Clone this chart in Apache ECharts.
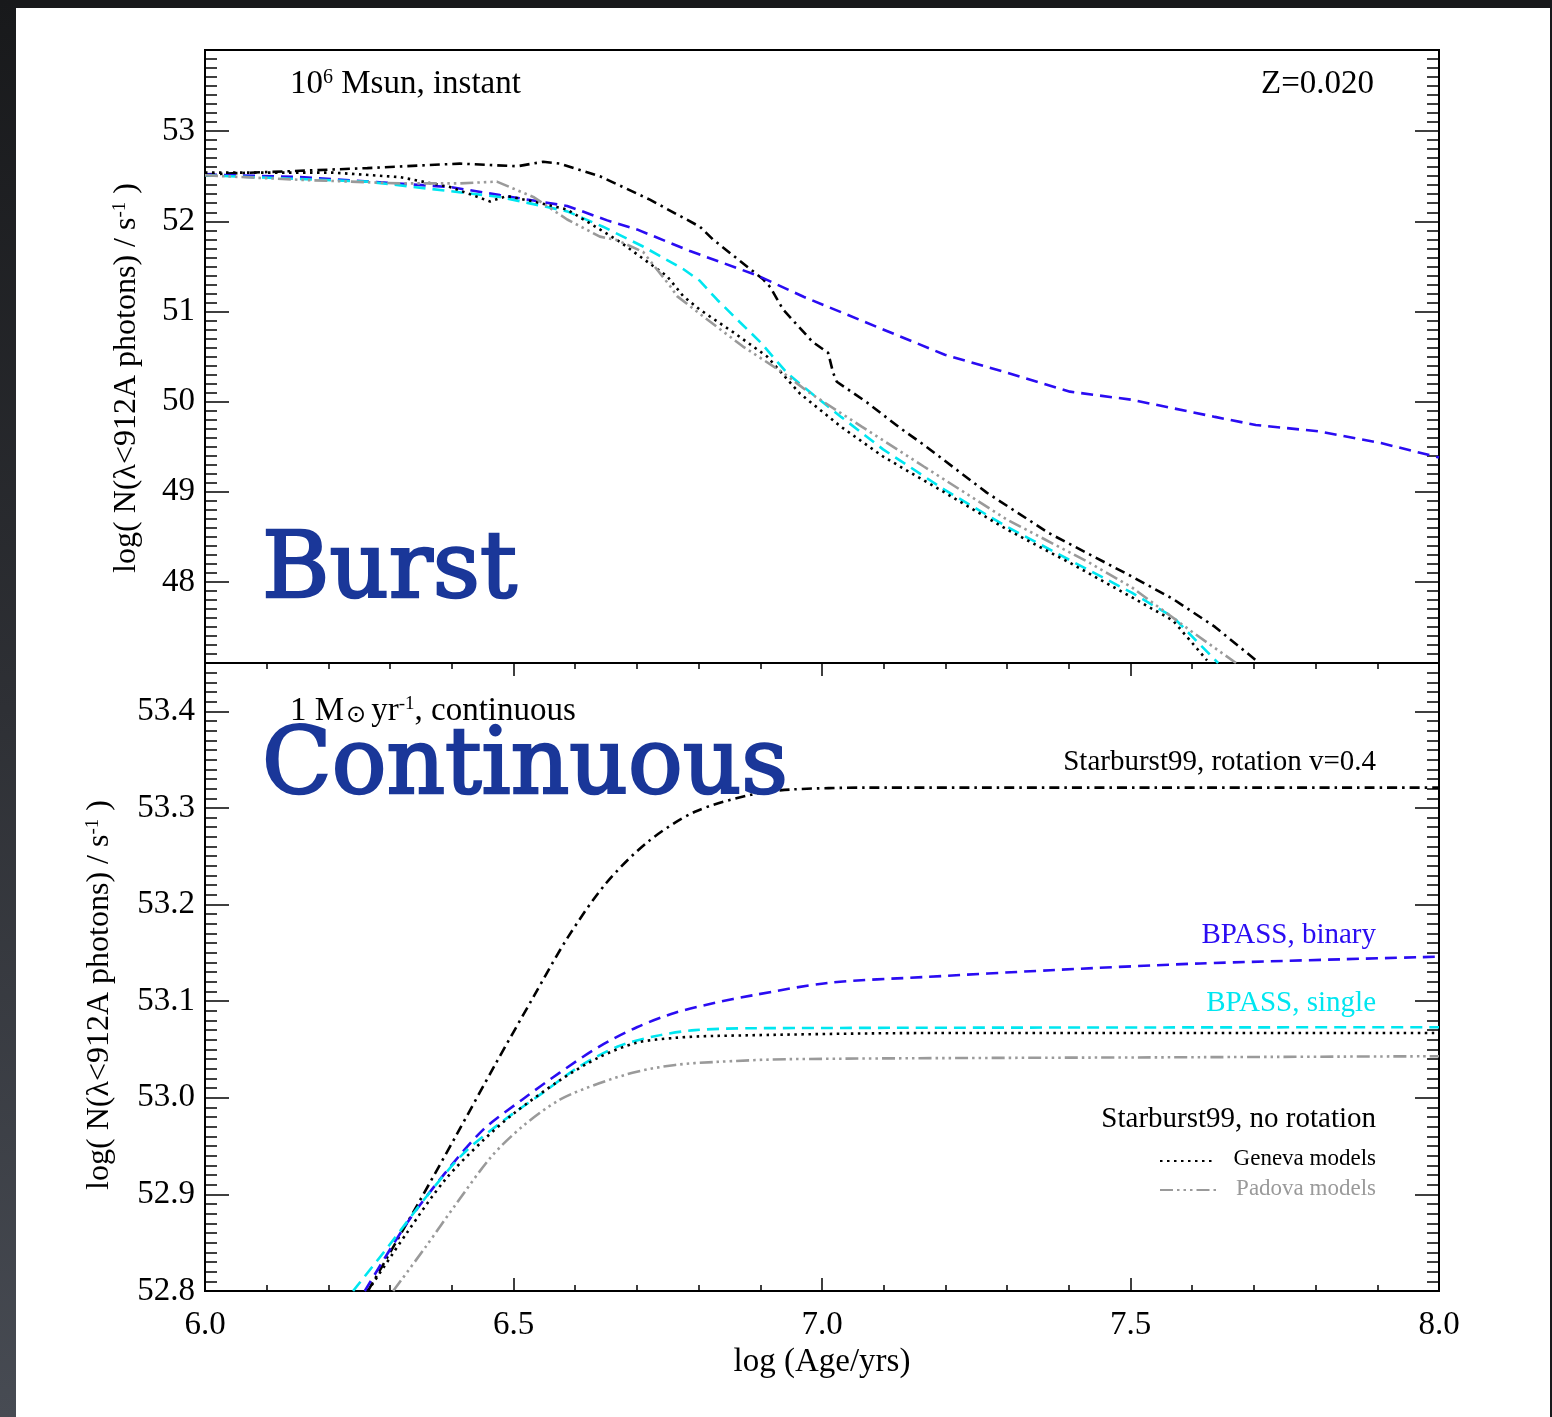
<!DOCTYPE html>
<html><head><meta charset="utf-8">
<script src="https://cdn.jsdelivr.net/npm/echarts@6/dist/echarts.min.js"></script>
<style>html,body{margin:0;padding:0;background:#fff}#c{width:1552px;height:1417px}</style>
</head><body><div id="c"></div>
<script>
// ---------- tick values / labels ----------
const xTicks = [6.0, 6.5, 7.0, 7.5, 8.0];
const xTickLabels = ['6.0', '6.5', '7.0', '7.5', '8.0'];
const topYTicks = [48, 49, 50, 51, 52, 53];
const topYLabels = ['48', '49', '50', '51', '52', '53'];
const botYTicks = [52.8, 52.9, 53.0, 53.1, 53.2, 53.3, 53.4];
const botYLabels = ['52.8', '52.9', '53.0', '53.1', '53.2', '53.3', '53.4'];

// ---------- Burst panel (log age, log Q) ----------
const burstRotAge = [6.000, 6.154, 6.263, 6.413, 6.506, 6.548, 6.575, 6.640, 6.721, 6.802, 6.823, 6.904, 6.916, 6.937, 6.985, 7.010, 7.018, 7.024, 7.073, 7.126, 7.165, 7.267, 7.368, 7.502, 7.569, 7.637, 7.707];
const burstRotQ   = [52.52, 52.56, 52.59, 52.64, 52.61, 52.66, 52.64, 52.50, 52.24, 51.94, 51.80, 51.36, 51.27, 51.02, 50.66, 50.54, 50.32, 50.22, 49.99, 49.71, 49.52, 48.99, 48.54, 48.06, 47.81, 47.50, 47.11];

const burstBinAge = [6.000, 6.154, 6.397, 6.478, 6.587, 6.652, 6.700, 6.786, 6.895, 6.971, 7.099, 7.199, 7.300, 7.402, 7.502, 7.637, 7.703, 7.805, 7.906, 8.000];
const burstBinQ   = [52.52, 52.49, 52.38, 52.29, 52.17, 52.01, 51.91, 51.67, 51.40, 51.16, 50.80, 50.52, 50.32, 50.11, 50.02, 49.83, 49.74, 49.67, 49.54, 49.38];

const burstSinAge = [6.000, 6.263, 6.478, 6.587, 6.645, 6.710, 6.775, 6.802, 6.830, 6.867, 6.900, 6.943, 6.976, 7.031, 7.099, 7.199, 7.300, 7.402, 7.502, 7.569, 7.642];
const burstSinQ   = [52.51, 52.44, 52.27, 52.11, 51.94, 51.72, 51.47, 51.34, 51.13, 50.88, 50.66, 50.32, 50.13, 49.83, 49.47, 49.02, 48.61, 48.24, 47.88, 47.61, 47.10];

const burstGenAge = [6.000, 6.207, 6.316, 6.397, 6.462, 6.489, 6.532, 6.587, 6.640, 6.673, 6.705, 6.749, 6.775, 6.802, 6.856, 6.911, 6.964, 7.031, 7.099, 7.199, 7.300, 7.402, 7.502, 7.569, 7.624];
const burstGenQ   = [52.54, 52.54, 52.49, 52.38, 52.22, 52.28, 52.22, 52.13, 51.91, 51.77, 51.61, 51.39, 51.17, 51.02, 50.77, 50.50, 50.09, 49.72, 49.39, 48.99, 48.58, 48.21, 47.83, 47.57, 47.13];

const burstPadAge = [6.000, 6.154, 6.316, 6.413, 6.473, 6.532, 6.587, 6.640, 6.668, 6.710, 6.754, 6.765, 6.814, 6.872, 6.937, 6.977, 7.065, 7.165, 7.300, 7.434, 7.502, 7.603, 7.671];
const burstPadQ   = [52.51, 52.46, 52.42, 52.42, 52.44, 52.27, 52.02, 51.83, 51.79, 51.66, 51.28, 51.17, 50.91, 50.61, 50.32, 50.11, 49.72, 49.28, 48.69, 48.21, 47.94, 47.43, 47.10];

// ---------- Continuous panel ----------
const contRotAge = [6.264, 6.345, 6.408, 6.470, 6.532, 6.588, 6.650, 6.718, 6.794, 6.887, 6.948, 7.073, 8.000];
const contRotQ   = [52.800, 52.890, 52.962, 53.034, 53.104, 53.166, 53.222, 53.265, 53.296, 53.314, 53.319, 53.321, 53.321];

const contBinAge = [6.259, 6.327, 6.389, 6.451, 6.514, 6.575, 6.639, 6.700, 6.762, 6.825, 6.887, 7.011, 7.167, 7.370, 7.613, 8.000];
const contBinQ   = [52.800, 52.870, 52.922, 52.967, 52.998, 53.026, 53.053, 53.073, 53.088, 53.098, 53.106, 53.119, 53.125, 53.132, 53.139, 53.146];

const contSinAge = [6.240, 6.297, 6.358, 6.420, 6.483, 6.545, 6.606, 6.669, 6.731, 6.794, 6.887, 8.000];
const contSinQ   = [52.800, 52.846, 52.897, 52.943, 52.976, 53.004, 53.032, 53.053, 53.064, 53.070, 53.072, 53.073];

const contGenAge = [6.264, 6.327, 6.389, 6.451, 6.501, 6.575, 6.639, 6.700, 6.762, 6.825, 7.178, 8.000];
const contGenQ   = [52.800, 52.860, 52.915, 52.956, 52.984, 53.018, 53.042, 53.057, 53.062, 53.064, 53.067, 53.067];

const contPadAge = [6.305, 6.358, 6.408, 6.464, 6.514, 6.575, 6.639, 6.700, 6.762, 6.825, 6.948, 7.613, 8.000];
const contPadQ   = [52.800, 52.846, 52.891, 52.939, 52.970, 52.998, 53.015, 53.027, 53.034, 53.037, 53.040, 53.042, 53.043];

// ---------- helpers ----------
const SERIF = '"Liberation Serif", "Times New Roman", serif';
const SLAB = '"DejaVu Serif", serif';
const C_BLUE = '#2a0cf2', C_CYAN = '#00e6f0', C_GRAY = '#9a9a9a', C_BLACK = '#000', C_TITLE = '#1a3799';
const DASH_ROT = [10, 5, 2.5, 5], DASH_BPASS = [12, 7], DASH_GEN = [2.5, 4.5], DASH_PAD = [13, 4, 2.5, 4, 2.5, 4, 2.5, 4];

function pairs(xs, ys) { return xs.map((x, i) => [x, ys[i]]); }
function lookup(ticks, labels) {
  return function (v) { const i = ticks.findIndex(t => Math.abs(t - v) < 1e-6); return i >= 0 ? labels[i] : ''; };
}
const topMinor = []; for (let k = 472; k <= 539; k++) topMinor.push(k / 10);
const botMinor = []; for (let k = 5281; k <= 5345; k++) botMinor.push(k / 100);

function yAxes(gridIndex, min, max, majors, minors, fmt) {
  const base = { gridIndex, type: 'value', min, max, axisLine: { show: false }, splitLine: { show: false } };
  const tickStyle = { color: '#000', width: 1.5 };
  return [
    Object.assign({}, base, { position: 'left',
      axisTick: { show: true, inside: true, length: 24, customValues: majors, lineStyle: tickStyle },
      axisLabel: { show: true, customValues: majors, formatter: fmt, fontFamily: SERIF, fontSize: 33, color: '#000', margin: 10, padding: [4, 0, 0, 0] } }),
    Object.assign({}, base, { position: 'left',
      axisTick: { show: true, inside: true, length: 12, customValues: minors, lineStyle: tickStyle },
      axisLabel: { show: false } }),
    Object.assign({}, base, { position: 'right',
      axisTick: { show: true, inside: true, length: 24, customValues: majors, lineStyle: tickStyle },
      axisLabel: { show: false } }),
    Object.assign({}, base, { position: 'right',
      axisTick: { show: true, inside: true, length: 12, customValues: minors, lineStyle: tickStyle },
      axisLabel: { show: false } })
  ];
}

function line(name, xi, yi, xs, ys, color, dash, smooth) {
  return {
    name, type: 'line', xAxisIndex: xi, yAxisIndex: yi, data: pairs(xs, ys),
    showSymbol: false, symbol: 'none', clip: true, animation: false,
    smooth: smooth ? 0.3 : false,
    lineStyle: { color, width: 2.6, type: dash, cap: 'butt' }
  };
}

const chart = echarts.init(document.getElementById('c'), null, { renderer: 'canvas' });

const xBase = { type: 'value', min: 6, max: 8, interval: 0.5, splitLine: { show: false }, minorSplitLine: { show: false }, axisLine: { show: false } };

const option = {
  backgroundColor: '#fff',
  animation: false,
  grid: [
    { left: 205, top: 50, width: 1234, height: 613, show: true, borderColor: '#000', borderWidth: 2, backgroundColor: 'transparent' },
    { left: 205, top: 663, width: 1234, height: 628, show: true, borderColor: '#000', borderWidth: 2, backgroundColor: 'transparent' }
  ],
  xAxis: [
    Object.assign({}, xBase, { gridIndex: 0, position: 'bottom', axisTick: { show: false }, axisLabel: { show: false } }),
    Object.assign({}, xBase, { gridIndex: 1, position: 'bottom',
      axisTick: { show: true, inside: true, length: 13, lineStyle: { color: '#000', width: 1.5 } },
      minorTick: { show: true, splitNumber: 5, length: 6, lineStyle: { color: '#000', width: 1.5 } },
      axisLabel: { show: true, formatter: lookup(xTicks, xTickLabels), fontFamily: SERIF, fontSize: 33, color: '#000', margin: 18, showMinLabel: true, showMaxLabel: true } }),
    Object.assign({}, xBase, { gridIndex: 1, position: 'top',
      axisTick: { show: true, inside: true, length: 13, lineStyle: { color: '#000', width: 1.5 } },
      minorTick: { show: true, splitNumber: 5, length: 6, lineStyle: { color: '#000', width: 1.5 } },
      axisLabel: { show: false } })
  ],
  yAxis: [].concat(
    yAxes(0, 47.1, 53.9, topYTicks, topMinor, lookup(topYTicks, topYLabels)),
    yAxes(1, 52.8, 53.45, botYTicks, botMinor, lookup(botYTicks, botYLabels))
  ),
  series: [
    line('SB99 rotation (burst)', 0, 0, burstRotAge, burstRotQ, C_BLACK, DASH_ROT, false),
    line('BPASS binary (burst)', 0, 0, burstBinAge, burstBinQ, C_BLUE, DASH_BPASS, false),
    line('BPASS single (burst)', 0, 0, burstSinAge, burstSinQ, C_CYAN, DASH_BPASS, false),
    line('Geneva (burst)', 0, 0, burstGenAge, burstGenQ, C_BLACK, DASH_GEN, false),
    line('Padova (burst)', 0, 0, burstPadAge, burstPadQ, C_GRAY, DASH_PAD, false),
    line('SB99 rotation (continuous)', 1, 4, contRotAge, contRotQ, C_BLACK, DASH_ROT, true),
    line('BPASS binary (continuous)', 1, 4, contBinAge, contBinQ, C_BLUE, DASH_BPASS, true),
    line('BPASS single (continuous)', 1, 4, contSinAge, contSinQ, C_CYAN, DASH_BPASS, true),
    line('Geneva (continuous)', 1, 4, contGenAge, contGenQ, C_BLACK, DASH_GEN, true),
    line('Padova (continuous)', 1, 4, contPadAge, contPadQ, C_GRAY, DASH_PAD, true)
  ],
  graphic: [
    // dark screenshot frame
    { type: 'rect', left: 0, top: 0, shape: { width: 1552, height: 8 }, style: { fill: '#18191b' }, z: 100 },
    { type: 'rect', left: 0, top: 0, shape: { width: 16, height: 1417 },
      style: { fill: new echarts.graphic.LinearGradient(0, 0, 0, 1, [{ offset: 0, color: '#18191b' }, { offset: 0.5, color: '#2e3035' }, { offset: 1, color: '#474b53' }]) }, z: 100 },
    { type: 'rect', left: 1550, top: 0, shape: { width: 2, height: 1417 }, style: { fill: '#18191b' }, z: 100 },

    // top panel annotations
    { type: 'text', x: 290, y: 84, z: 50, style: { text: '{n|10}{s|6}{n| Msun, instant}', verticalAlign: 'middle', align: 'left',
      rich: { n: { fontFamily: SERIF, fontSize: 33, fill: '#000' }, s: { fontFamily: SERIF, fontSize: 20, fill: '#000', verticalAlign: 'top' } } } },
    { type: 'text', x: 1374, y: 84, z: 50, style: { text: 'Z=0.020', fontFamily: SERIF, fontSize: 33, fill: '#000', align: 'right', verticalAlign: 'middle' } },
    { type: 'text', x: 262, y: 573, z: 50, style: { text: 'Burst', fontFamily: SLAB, fontSize: 92, fill: C_TITLE, stroke: C_TITLE, lineWidth: 2.5, align: 'left', verticalAlign: 'middle' } },

    // bottom panel annotations
    { type: 'text', x: 290, y: 711, z: 50, style: { text: '{n|1 M}{o|⊙}{n|yr}{s|-1}{n|, continuous}', verticalAlign: 'middle', align: 'left',
      rich: { n: { fontFamily: SERIF, fontSize: 33, fill: '#000' }, o: { fontFamily: '"DejaVu Sans"', fontSize: 24, fill: '#000', verticalAlign: 'bottom', padding: [0, 5, 0, 2] }, s: { fontFamily: SERIF, fontSize: 19, fill: '#000', verticalAlign: 'top' } } } },
    { type: 'text', x: 262, y: 769, z: 50, style: { text: 'Continuous', fontFamily: SLAB, fontSize: 91, fill: C_TITLE, stroke: C_TITLE, lineWidth: 2.5, align: 'left', verticalAlign: 'middle' } },
    { type: 'text', x: 1376, y: 762, z: 50, style: { text: 'Starburst99, rotation v=0.4', fontFamily: SERIF, fontSize: 29, fill: '#000', align: 'right', verticalAlign: 'middle' } },
    { type: 'text', x: 1376, y: 935, z: 50, style: { text: 'BPASS, binary', fontFamily: SERIF, fontSize: 29, fill: C_BLUE, align: 'right', verticalAlign: 'middle' } },
    { type: 'text', x: 1376, y: 1003, z: 50, style: { text: 'BPASS, single', fontFamily: SERIF, fontSize: 29, fill: C_CYAN, align: 'right', verticalAlign: 'middle' } },
    { type: 'text', x: 1376, y: 1119, z: 50, style: { text: 'Starburst99, no rotation', fontFamily: SERIF, fontSize: 29, fill: '#000', align: 'right', verticalAlign: 'middle' } },
    { type: 'text', x: 1376, y: 1159, z: 50, style: { text: 'Geneva models', fontFamily: SERIF, fontSize: 23, fill: '#000', align: 'right', verticalAlign: 'middle' } },
    { type: 'text', x: 1376, y: 1189, z: 50, style: { text: 'Padova models', fontFamily: SERIF, fontSize: 23, fill: C_GRAY, align: 'right', verticalAlign: 'middle' } },
    { type: 'line', z: 50, shape: { x1: 1160, y1: 1161, x2: 1216, y2: 1161 }, style: { stroke: '#000', lineWidth: 2.2, lineDash: DASH_GEN } },
    { type: 'line', z: 50, shape: { x1: 1160, y1: 1190, x2: 1216, y2: 1190 }, style: { stroke: C_GRAY, lineWidth: 2.2, lineDash: DASH_PAD } },

    // axis titles
    { type: 'text', x: 127, y: 378, rotation: Math.PI / 2, z: 50, style: { text: '{n|log( N(λ<912A photons) / s}{s|-1}{n| )}', align: 'center', verticalAlign: 'middle',
      rich: { n: { fontFamily: SERIF, fontSize: 32, fill: '#000' }, s: { fontFamily: SERIF, fontSize: 19, fill: '#000', verticalAlign: 'top' } } } },
    { type: 'text', x: 100, y: 995, rotation: Math.PI / 2, z: 50, style: { text: '{n|log( N(λ<912A photons) / s}{s|-1}{n| )}', align: 'center', verticalAlign: 'middle',
      rich: { n: { fontFamily: SERIF, fontSize: 32, fill: '#000' }, s: { fontFamily: SERIF, fontSize: 19, fill: '#000', verticalAlign: 'top' } } } },
    { type: 'text', x: 822, y: 1362, z: 50, style: { text: 'log (Age/yrs)', fontFamily: SERIF, fontSize: 33, fill: '#000', align: 'center', verticalAlign: 'middle' } }
  ]
};
chart.setOption(option);
</script></body></html>
